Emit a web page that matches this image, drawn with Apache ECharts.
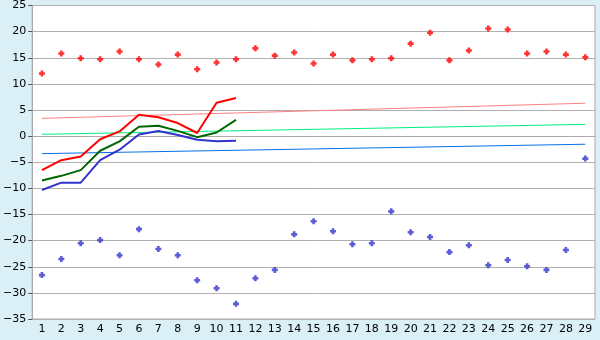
<!DOCTYPE html>
<html><head><meta charset="utf-8">
<script src="https://cdn.jsdelivr.net/npm/echarts@6/dist/echarts.min.js"></script>
<style>html,body{margin:0;padding:0;background:#DAEFF6;}#c{width:600px;height:340px;}</style>
</head><body><div id="c"></div>
<script>
var days = ['1','2','3','4','5','6','7','8','9','10','11','12','13','14','15','16','17','18','19','20','21','22','23','24','25','26','27','28','29'];
var recordMax = [12.0,15.8,14.9,14.7,16.2,14.7,13.7,15.6,12.8,14.1,14.7,16.8,15.4,16.0,13.9,15.6,14.5,14.7,14.9,17.7,19.8,14.5,16.4,20.6,20.4,15.8,16.2,15.6,15.1];
var recordMin = [-26.6,-23.5,-20.5,-19.9,-22.8,-17.8,-21.6,-22.8,-27.6,-29.1,-32.1,-27.2,-25.6,-18.8,-16.3,-18.2,-20.7,-20.5,-14.4,-18.4,-19.3,-22.2,-20.9,-24.7,-23.7,-24.9,-25.6,-21.8,-4.3];
var dailyMax = [-6.5,-4.6,-3.9,-0.6,0.9,4.1,3.6,2.5,0.6,6.4,7.3];
var dailyMean = [-8.5,-7.6,-6.5,-2.8,-1.0,1.8,2.0,1.0,-0.2,0.7,3.1];
var dailyMin = [-10.3,-8.9,-8.9,-4.6,-2.6,0.3,1.0,0.2,-0.7,-1.0,-0.9];
var trendDays = ['1','29'];
var trendMax = [3.4,6.3];
var trendMean = [0.35,2.25];
var trendMin = [-3.35,-1.55];
var yMin = -35, yMax = 25, yStep = 5;

function pairs(xs, ys){ return xs.map(function(x,i){ return [x, ys[i]]; }); }
var marker = 'path://M2,0H5V2H7V5H5V7H2V5H0V2H2Z';
var font = 'DejaVu Sans';
var chart = echarts.init(document.getElementById('c'));
chart.setOption({
  animation: false,
  backgroundColor: '#DAEFF6',
  grid: {left: 27, right: 5, top: 5, bottom: 21, show: true, backgroundColor: '#ffffff', borderColor: '#aaaaaa', borderWidth: 1},
  xAxis: {
    type: 'category', data: days, boundaryGap: true,
    axisLine: {lineStyle: {color: '#aaaaaa'}},
    axisTick: {alignWithLabel: true, length: 4, lineStyle: {color: '#333'}},
    axisLabel: {color: '#000', fontFamily: font, fontSize: 11, margin: 5, interval: 0},
    splitLine: {show: false}
  },
  yAxis: {
    type: 'value', min: yMin, max: yMax, interval: yStep,
    axisLine: {show: true, lineStyle: {color: '#aaaaaa'}},
    axisTick: {show: true, length: 4, lineStyle: {color: '#555'}},
    axisLabel: {color: '#000', fontFamily: font, fontSize: 11, margin: 6, formatter: function(v){ return String(v).replace('-', '\u2212'); }},
    splitLine: {lineStyle: {color: '#b0b0b0', width: 1}}
  },
  series: [
    {type: 'line', data: pairs(trendDays, trendMax), symbol: 'none', lineStyle: {color: '#FF8080', width: 1}, z: 2},
    {type: 'line', data: pairs(trendDays, trendMean), symbol: 'none', lineStyle: {color: '#00F080', width: 1}, z: 2},
    {type: 'line', data: pairs(trendDays, trendMin), symbol: 'none', lineStyle: {color: '#0870E8', width: 1}, z: 2},
    {type: 'line', data: dailyMin, symbol: 'none', lineStyle: {color: '#3333CC', width: 2}, z: 3},
    {type: 'line', data: dailyMean, symbol: 'none', lineStyle: {color: '#006600', width: 2}, z: 3},
    {type: 'line', data: dailyMax, symbol: 'none', lineStyle: {color: '#FF0000', width: 2}, z: 4},
    {type: 'scatter', data: recordMax, symbol: marker, symbolSize: 6, itemStyle: {color: '#FF0000'}, z: 5},
    {type: 'scatter', data: recordMin, symbol: marker, symbolSize: 6, itemStyle: {color: '#3333CC'}, z: 5}
  ]
});
</script></body></html>
